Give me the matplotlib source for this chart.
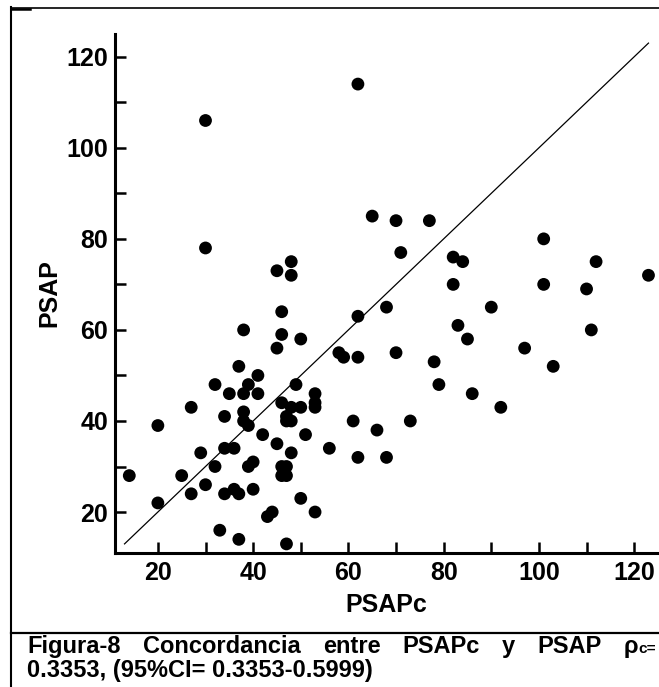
import matplotlib
matplotlib.use("Agg")
import matplotlib.pyplot as plt
from matplotlib.lines import Line2D
from matplotlib.ticker import MultipleLocator

# values
psapc = [14, 20, 20, 25, 27, 27, 29, 30, 30, 30,
         32, 32, 33, 34, 34, 34, 35, 36, 36, 37, 37, 37,
         38, 38, 38, 38, 39, 39, 39, 40, 40, 41, 41,
         42, 43, 44, 45, 45, 45, 46, 46, 46, 46, 46, 47, 47, 47,
         47, 47, 48, 48, 48, 48, 48, 49, 50, 50, 50, 51,
         53, 53, 53, 53, 56, 58, 59, 61, 62, 62, 62, 62,
         65, 66, 68, 68, 70, 70, 71, 73, 77, 78, 79,
         82, 82, 83, 84, 85, 86, 90, 92, 97, 101, 101, 103,
         110, 111, 112, 123]
psap = [28, 39, 22, 28, 43, 24, 33, 26, 106, 78,
        48, 30, 16, 41, 34, 24, 46, 34, 25, 52, 24, 14,
        60, 46, 42, 40, 39, 30, 48, 31, 25, 50, 46,
        37, 19, 20, 73, 56, 35, 64, 59, 44, 30, 28, 30, 28, 13,
        41, 40, 40, 75, 72, 43, 33, 48, 58, 43, 23, 37,
        46, 44, 43, 20, 34, 55, 54, 40, 114, 63, 54, 32,
        85, 38, 65, 32, 84, 55, 77, 40, 84, 53, 48,
        76, 70, 61, 75, 58, 46, 65, 43, 56, 80, 70, 52,
        69, 60, 75, 72]
identity = [13, 123]

x_ticks = [20, 40, 60, 80, 100, 120]
y_ticks = [20, 40, 60, 80, 100, 120]
x_label = "PSAPc"
y_label = "PSAP"
caption_words = ["Figura-8", "Concordancia", "entre", "PSAPc", "y", "PSAP"]
caption_line2 = "0.3353, (95%CI= 0.3353-0.5999)"

plt.rcParams['font.family'] = ['Liberation Sans', 'DejaVu Sans']
plt.rcParams['font.weight'] = 'bold'

W, H = 659, 687
fig = plt.figure(figsize=(W / 100, H / 100), dpi=100)
ax = fig.add_axes([115 / W, 1 - 553 / H, (658 - 115) / W, (553 - 34) / H])

ax.scatter(psapc, psap, s=85, c='black', edgecolors='none', zorder=3)
ax.plot(identity, identity, color='black', lw=0.9, zorder=2)

ax.set_xlim(11, 125)
ax.set_ylim(11, 125)
for side in ['top', 'right']:
    ax.spines[side].set_visible(False)
for side in ['left', 'bottom']:
    ax.spines[side].set_linewidth(2.2)

ax.set_xticks(x_ticks)
ax.set_yticks(y_ticks)
ax.xaxis.set_minor_locator(MultipleLocator(10))
ax.yaxis.set_minor_locator(MultipleLocator(10))
ax.tick_params(which='both', direction='in', length=8, width=1.8)
ax.tick_params(axis='both', labelsize=18)
ax.tick_params(axis='x', pad=6)
ax.tick_params(axis='y', pad=5)

ax.set_xlabel(x_label, fontsize=18, fontweight='bold')
ax.xaxis.set_label_coords(0.5, -0.1)
ax.xaxis.label.set_verticalalignment('center')
ax.set_ylabel(y_label, fontsize=18, fontweight='bold')
ax.yaxis.set_label_coords(-0.12, 0.5)
ax.yaxis.label.set_verticalalignment('center')

# frame lines of the figure box
fig.add_artist(Line2D([11 / W, 11 / W], [0, 1 - 7 / H], lw=1.5, color='black'))
fig.add_artist(Line2D([11 / W, 1], [1 - 7.5 / H] * 2, lw=1.2, color='black'))
fig.add_artist(Line2D([11 / W, 30 / W], [1 - 8.5 / H] * 2, lw=1.8, color='black'))
fig.add_artist(Line2D([11 / W, 1], [1 - 633 / H] * 2, lw=1.6, color='black'))

# caption, first line justified
cap_fs = 17
x0, x1 = 27, 656
y1 = 1 - 653 / H
y2 = 1 - 677 / H
renderer = fig.canvas.get_renderer()
texts = [fig.text(0, y1, w, fontsize=cap_fs, va='baseline') for w in caption_words]
rho = fig.text(0, y1, "\u03c1", fontsize=cap_fs, va='baseline')
sub = fig.text(0, y1, "c=", fontsize=cap_fs * 0.65, va='baseline')
widths = [t.get_window_extent(renderer).width for t in texts]
rho_w = rho.get_window_extent(renderer).width
sub_w = sub.get_window_extent(renderer).width
widths.append(rho_w + sub_w)
gap = (x1 - x0 - sum(widths)) / len(texts)
x = x0
for t, w in zip(texts, widths):
    t.set_x(x / W)
    x += w + gap
rho.set_x(x / W)
sub.set_x((x + rho_w) / W)
fig.text(x0 / W, y2, caption_line2, fontsize=cap_fs, va='baseline')

fig.savefig("out.png", dpi=100)
